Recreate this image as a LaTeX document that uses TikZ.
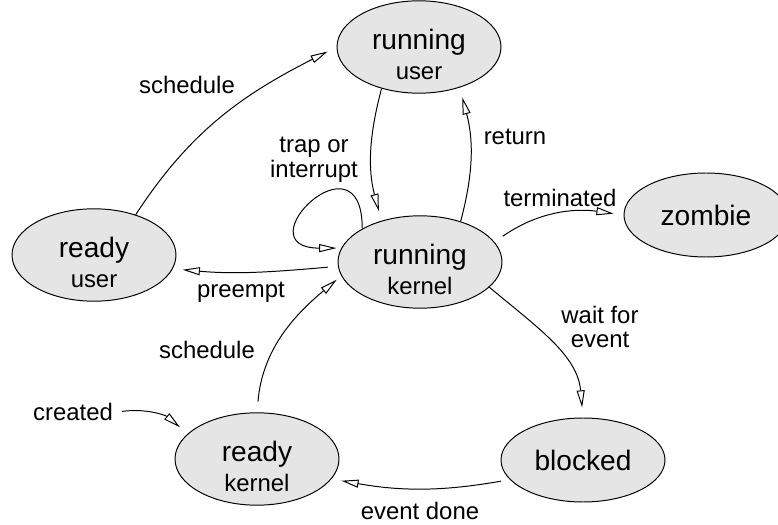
\documentclass[tikz,border=0pt]{standalone}
\usepackage{fontspec}
\setmainfont{Liberation Sans}
\usetikzlibrary{arrows.meta}
\usetikzlibrary{shapes.geometric}

\newcommand{\stname}{\fontsize{20}{24}\selectfont}
\newcommand{\sttwo}[2]{{\stname\rule{0pt}{25pt}#1}\\#2}

\begin{document}
\begin{tikzpicture}[
  proc/.style={ellipse, draw, line width=0.7pt, fill=gray!20, minimum width=4.1cm, minimum height=2.1cm, inner sep=0pt, align=center, font=\fontsize{17}{21.3}\selectfont},
  lbl/.style={font=\fontsize{17}{17.5}\selectfont, align=center},
  trans/.style={line width=0.7pt, -{Triangle[open, length=0.43cm, width=0.2cm]}, shorten >=0.25cm}
]
\useasboundingbox (0,0) rectangle (19.45,13.1);

\node[proc] (ru) at (10.475,11.925) {\sttwo{running}{user}};
\node[proc] (rk) at (10.5,6.55) {\sttwo{running}{kernel}};
\node[proc] (yu) at (2.35,6.725) {\sttwo{ready}{user}};
\node[proc] (zo) at (17.65,7.725) {\stname zombie};
\node[proc] (yk) at (6.425,1.625) {\sttwo{ready}{kernel}};
\node[proc] (bl) at (14.575,1.6) {\stname blocked};

\node[lbl] (sched1) at (4.675,10.975) {schedule};
\node[lbl] (trap) at (7.85,9.1) {trap or\\interrupt};
\node[lbl] (ret) at (12.875,9.675) {return};
\node[lbl] (term) at (14.0,8.15) {terminated};
\node[lbl] (preempt) at (6.025,5.8) {preempt};
\node[lbl] (wait) at (15.0,4.925) {wait for\\event};
\node[lbl] (sched2) at (5.175,4.35) {schedule};
\node[lbl] (created) at (1.825,2.8) {created};
\node[lbl] (evdone) at (10.5,0.32) {event done};

\draw[trans] (yu.44) to[out=57, in=207] (ru.180);
\draw[trans] (ru.228) to[out=255, in=105] (rk.133);
\draw[trans] (rk.45) to[out=75, in=-75] (ru.-45);
\draw[trans, shorten >=0.12cm] (rk.150) .. controls +(90:2.5) and +(180:2.5) .. (rk.170);
\draw[trans, shorten <=0.25cm] (rk.183) to[out=185, in=-5] (yu.-10);
\draw[trans, shorten <=0.27cm, shorten >=0.15cm] (yk.90) to[out=85, in=220] (rk.190);
\draw[trans, shorten <=0.25cm] (rk.15) to[out=35, in=172] (zo.180);
\draw[trans] (rk.-20) to[out=-40, in=95] (bl.90);
\draw[trans, shorten <=0.22cm] (bl.195) to[out=190, in=-10] (yk.-15);
\draw[trans, shorten <=0.1cm] (created.east) to[out=8, in=140] (yk.160);
\end{tikzpicture}
\end{document}
